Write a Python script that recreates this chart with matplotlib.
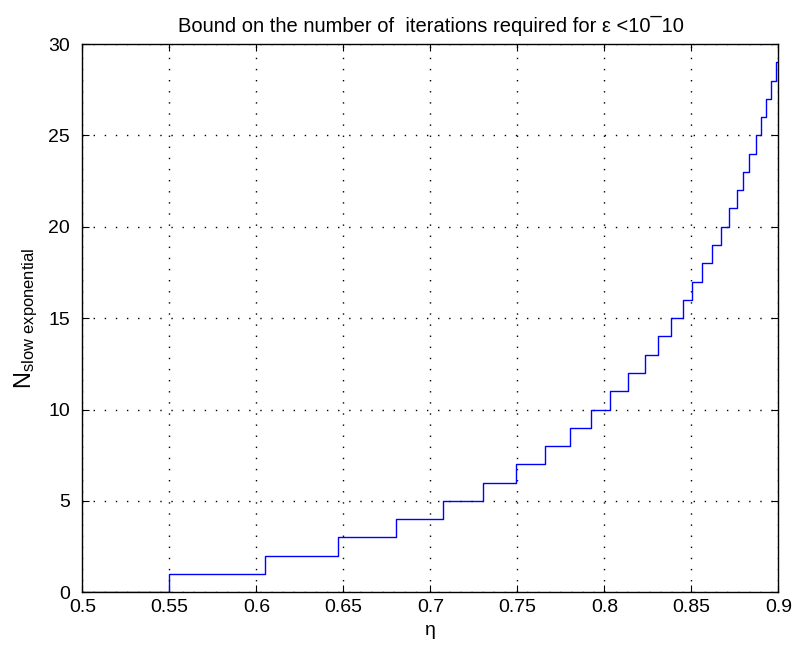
import matplotlib.pyplot as plt
import numpy as np

plt.rcParams['font.family'] = ['Liberation Sans', 'DejaVu Sans']
plt.rcParams['mathtext.fontset'] = 'custom'
plt.rcParams['mathtext.rm'] = 'Liberation Sans'

# eta where the bound jumps to the next integer, and the bound after the jump
eta_jump = [0.5, 0.550, 0.605, 0.647, 0.680, 0.707, 0.730, 0.749, 0.766,
            0.780, 0.792, 0.803, 0.8135, 0.823, 0.831, 0.838, 0.845, 0.8505,
            0.856, 0.862, 0.867, 0.8714, 0.876, 0.8794, 0.883, 0.887, 0.890,
            0.893, 0.8957, 0.8987]
n_iter = list(range(0, 30))
eta_end = 0.9

x = np.append(eta_jump, eta_end)
y = np.append(n_iter, n_iter[-1])

fig = plt.figure(figsize=(7.96, 6.53), dpi=100)
ax = fig.add_axes([0.1036, 0.093, 0.8744, 0.8396])

ax.step(x, y, where='post', color='blue', lw=1)

ax.set_xlim(0.5, 0.9)
ax.set_ylim(0, 30)
ax.set_xticks(np.arange(0.5, 0.901, 0.05))
ax.set_xticklabels(['0.5', '0.55', '0.6', '0.65', '0.7', '0.75', '0.8', '0.85', '0.9'])
ax.set_yticks(range(0, 31, 5))
ax.tick_params(direction='in', top=True, right=True, length=5, labelsize=14)
ax.tick_params(axis='x', pad=5)
ax.tick_params(axis='y', pad=9)
ax.grid(True, linestyle=(0, (1, 7)), color='black', lw=1)
for s in ax.spines.values():
    s.set_linewidth(1)

ax.set_xlabel('\u03b7', fontsize=14, labelpad=4)
ax.set_ylabel(r'$\mathregular{N_{slow\ exponential}}$', fontsize=17, labelpad=6)
ax.set_title('Bound on the number of  iterations required for \u03b5 <10\u00af10',
             fontsize=14.5, pad=9)

fig.savefig('out.png', dpi=100)
